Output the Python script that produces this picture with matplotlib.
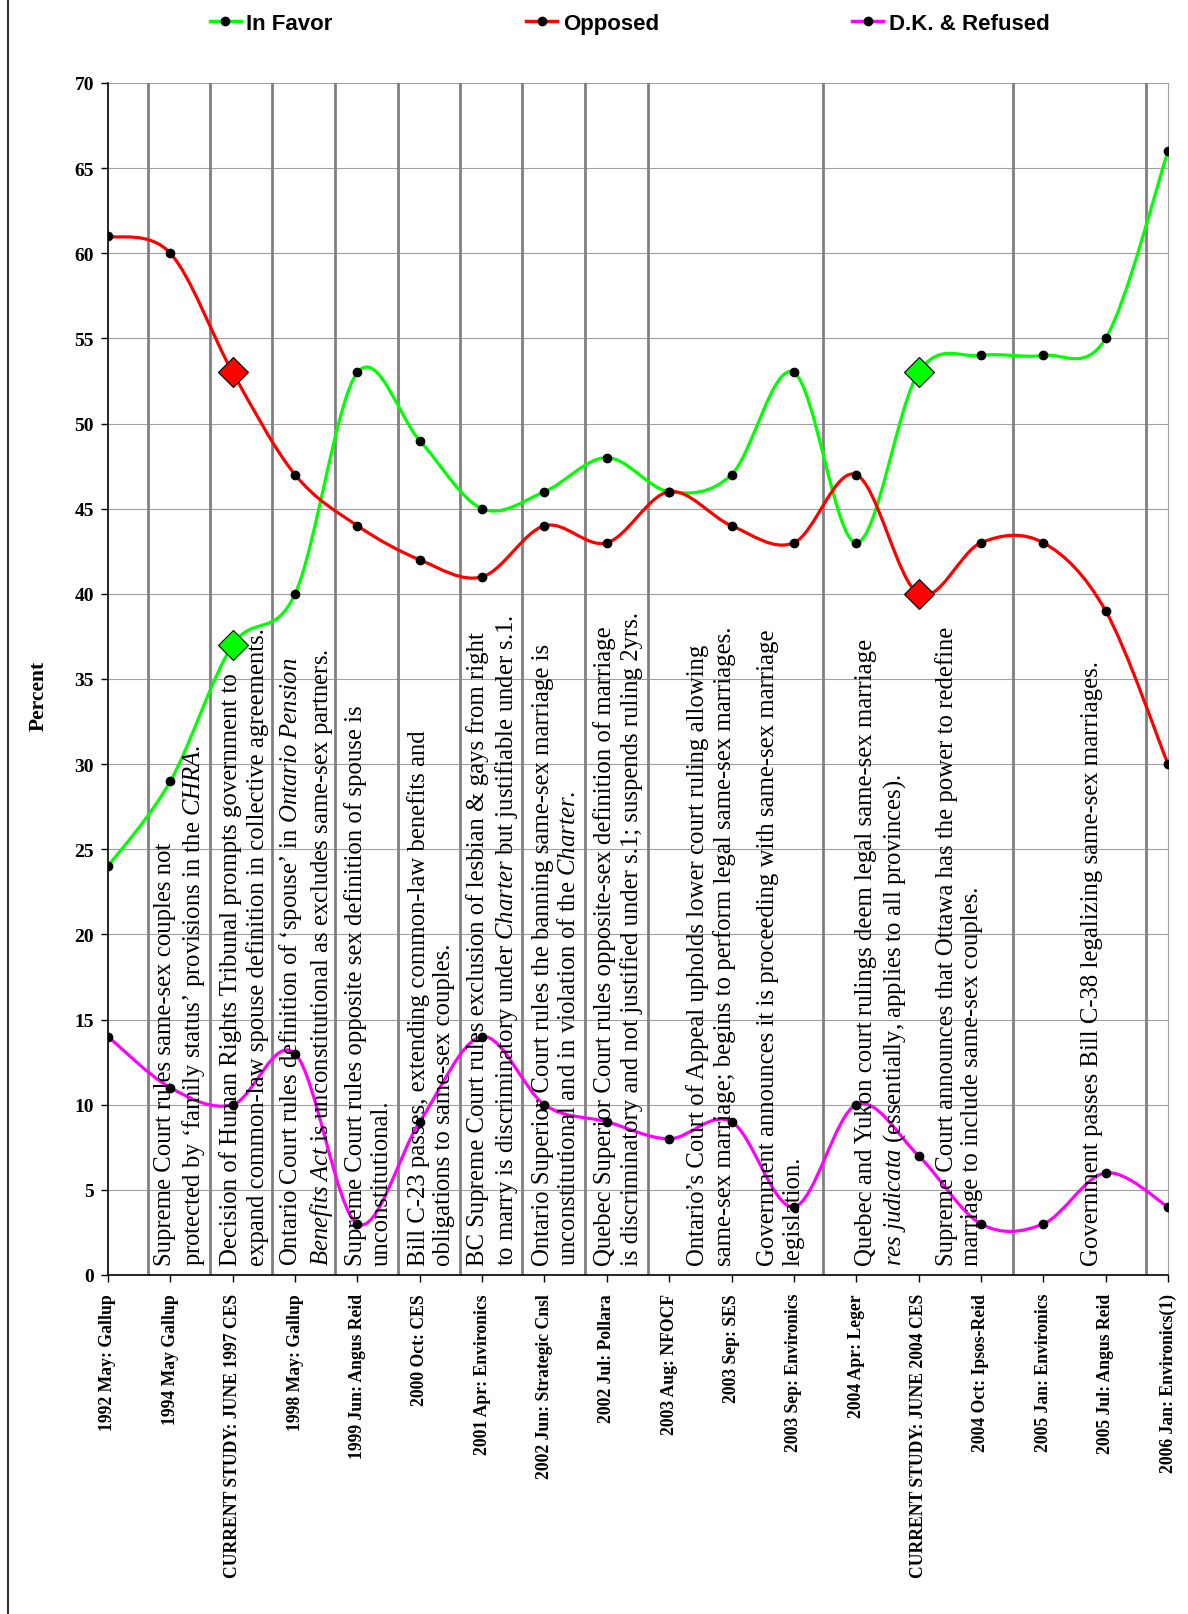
import numpy as np
import matplotlib
matplotlib.use('Agg')
import matplotlib.pyplot as plt
from matplotlib.path import Path
from matplotlib.patches import PathPatch
from matplotlib.lines import Line2D

plt.rcParams['mathtext.fontset'] = 'custom'
plt.rcParams['mathtext.rm'] = 'Liberation Serif'
plt.rcParams['mathtext.it'] = 'Liberation Serif:italic'

# poll data (percent)
polls = ['1992 May: Gallup', '1994 May Gallup', 'CURRENT STUDY: JUNE 1997 CES',
         '1998 May: Gallup', '1999 Jun: Angus Reid', '2000 Oct: CES',
         '2001 Apr: Environics', '2002 Jun: Strategic Cnsl', '2002 Jul: Pollara',
         '2003 Aug: NFOCF', '2003 Sep: SES', '2003 Sep: Environics',
         '2004 Apr: Leger', 'CURRENT STUDY: JUNE 2004 CES', '2004 Oct: Ipsos-Reid',
         '2005 Jan: Environics', '2005 Jul: Angus Reid', '2006 Jan: Environics(1)']
in_favor = [24, 29, 37, 40, 53, 49, 45, 46, 48, 46, 47, 53, 43, 53, 54, 54, 55, 66]
opposed = [61, 60, 53, 47, 44, 42, 41, 44, 43, 46, 44, 43, 47, 40, 43, 43, 39, 30]
dk_refused = [14, 11, 10, 13, 3, 9, 14, 10, 9, 8, 9, 4, 10, 7, 3, 3, 6, 4]
current_study = [2, 13]

# court rulings / events written over the chart
events = [
    "Supreme Court rules same-sex couples not\nprotected by \u2018family status\u2019 provisions in the $\\mathit{CHRA}$.",
    "Decision of Human Rights Tribunal prompts government to\nexpand common-law spouse definition in collective agreements.",
    "Ontario Court rules definition of \u2018spouse\u2019 in $\\mathit{Ontario\\ Pension}$\n$\\mathit{Benefits\\ Act}$ is unconstitutional as excludes same-sex partners.",
    "Supreme Court rules opposite sex definition of spouse is\nunconstitutional.",
    "Bill C-23 passes, extending common-law benefits and\nobligations to same-sex couples.",
    "BC Supreme Court rules exclusion of lesbian & gays from right\nto marry is discriminatory under $\\mathit{Charter}$ but justifiable under s.1.",
    "Ontario Superior Court rules the banning same-sex marriage is\nunconstitutional and in violation of the $\\mathit{Charter}$.",
    "Quebec Superior Court rules opposite-sex definition of marriage\nis discriminatory and not justified under s.1; suspends ruling 2yrs.",
    "Ontario\u2019s Court of Appeal upholds lower court ruling allowing\nsame-sex marriage; begins to perform legal same-sex marriages.",
    "Government announces it is proceeding with same-sex marriage\nlegislation.",
    "Quebec and Yukon court rulings deem legal same-sex marriage\n$\\mathit{res\\ judicata}$ (essentially, applies to all provinces).",
    "Supreme Court announces that Ottawa has the power to redefine\nmarriage to include same-sex couples.",
    "Government passes Bill C-38 legalizing same-sex marriages.",
]
event_x = [1.16, 2.18, 3.18, 4.18, 5.18, 6.17, 7.18, 8.18, 9.67, 10.79, 12.40, 13.65, 15.78]
divider_x = [0.64, 1.64, 2.63, 3.64, 4.65, 5.65, 6.64, 7.65, 8.66, 11.47, 14.52, 16.64]


def smooth_path(xs, ys):
    # excel-style smoothed line as cubic bezier segments
    pts = np.column_stack([xs, ys]).astype(float)
    n = len(pts)
    verts = [pts[0]]
    codes = [Path.MOVETO]
    for i in range(n - 1):
        p0 = pts[max(i - 1, 0)]
        p1 = pts[i]
        p2 = pts[i + 1]
        p3 = pts[min(i + 2, n - 1)]
        verts += [p1 + (p2 - p0) / 6, p2 - (p3 - p1) / 6, p2]
        codes += [Path.CURVE4] * 3
    return Path(verts, codes)


fig = plt.figure(figsize=(11.88, 16.15), dpi=100)
ax = fig.add_axes([108 / 1188, 1 - 1276 / 1615, 1060 / 1188, 1192 / 1615])

x = np.arange(len(polls))
series = [(in_favor, '#00ff00', 'In Favor', True),
          (opposed, '#ff0000', 'Opposed', True),
          (dk_refused, '#ff00ff', 'D.K. & Refused', False)]

for xv in divider_x:
    ax.axvline(xv, color='#808080', lw=2, zorder=1)

handles = []
for vals, col, lab, diamonds in series:
    vals = np.array(vals)
    ax.add_patch(PathPatch(smooth_path(x, vals), facecolor='none', edgecolor=col,
                           lw=2.3, zorder=3, capstyle='round'))
    keep = [i for i in x if not (diamonds and i in current_study)]
    ax.plot(x[keep], vals[keep], 'o', color='black', ms=6, zorder=5)
    if diamonds:
        ax.plot(x[current_study], vals[current_study], 'D', mfc=col, mec='black',
                mew=0.8, ms=15, zorder=6)
    handles.append(Line2D([], [], color=col, lw=2.5, marker='o', mfc='black',
                          mec='black', ms=6))

for txt, xv in zip(events, event_x):
    ax.text(xv, 0.6, txt, rotation=90, ha='center', va='bottom', multialignment='left',
            family='Liberation Serif', fontsize=17.8, linespacing=1.22, zorder=4)

ax.set_xlim(0, 17)
ax.set_ylim(0, 70)
ax.set_yticks(range(0, 71, 5))
ax.set_xticks(x)
ax.set_xticklabels(polls, rotation=90, family='Liberation Serif', fontweight='bold',
                   fontsize=12.7)
for t in ax.get_yticklabels():
    t.set_family('Liberation Serif')
    t.set_fontweight('bold')
    t.set_fontsize(14)
ax.tick_params(direction='out', length=5, width=1, pad=5)
ax.tick_params(axis='x', pad=8)
ax.grid(axis='y', color='#a0a0a0', lw=0.8, zorder=0)
ax.set_axisbelow(True)
ax.spines['top'].set_visible(False)
ax.spines['right'].set_color('#a0a0a0')
ax.spines['right'].set_linewidth(0.8)
ax.spines['left'].set_linewidth(1.2)
ax.spines['bottom'].set_linewidth(1.2)

ax.set_ylabel('Percent', family='Liberation Serif', fontweight='bold', fontsize=15.5)
ax.yaxis.set_label_coords(-0.056, 0.487)

fig.legend(handles, [s[2] for s in series], loc='center', bbox_to_anchor=(0.53, 0.985),
           ncol=3, frameon=False, columnspacing=8.7, handlelength=1.4, handletextpad=0.25,
           prop=dict(family='Liberation Sans', weight='bold', size=16))

fig.add_artist(Line2D([8 / 1188, 8 / 1188], [0, 1], transform=fig.transFigure,
                      color='#333333', lw=1.5))

fig.savefig('out.png', dpi=100)
